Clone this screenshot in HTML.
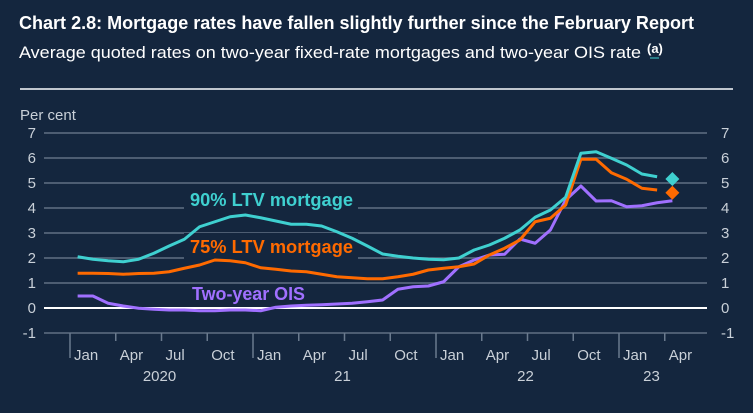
<!DOCTYPE html>
<html><head><meta charset="utf-8"><style>
html,body{margin:0;padding:0;background:#14263e;}
svg{display:block;font-family:"Liberation Sans",Arial,sans-serif;}
</style></head><body>
<svg id="chart" width="753" height="413" viewBox="0 0 753 413">
<rect width="753" height="413" fill="#14263e"/>
<text x="19" y="29" fill="#fff" font-weight="bold" font-size="18" textLength="675" lengthAdjust="spacingAndGlyphs">Chart 2.8: Mortgage rates have fallen slightly further since the February Report</text>
<text x="19" y="58" fill="#fff" font-size="17" textLength="622" lengthAdjust="spacingAndGlyphs">Average quoted rates on two-year fixed-rate mortgages and two-year OIS rate</text>
<text x="647" y="53" fill="#fff" font-size="13" font-weight="bold">(a)</text>
<line x1="650" y1="58" x2="659" y2="58" stroke="#3fd0d0" stroke-width="1"/>
<line x1="20" y1="89" x2="733" y2="89" stroke="#c0c6ce" stroke-width="2"/>
<text x="20" y="120" fill="#c9d0d8" font-size="15">Per cent</text>
<g id="grid"></g><g id="axes"></g><g id="series"></g>
<text x="190" y="206" fill="#3fd0d0" font-weight="bold" font-size="18" textLength="163" lengthAdjust="spacingAndGlyphs">90% LTV mortgage</text>
<text x="190" y="253" fill="#ff6a00" font-weight="bold" font-size="18" textLength="163" lengthAdjust="spacingAndGlyphs">75% LTV mortgage</text>
<text x="192" y="300" fill="#a070ff" font-weight="bold" font-size="18" textLength="113" lengthAdjust="spacingAndGlyphs">Two-year OIS</text>
</svg>
<script>
const yTicks=[-1,0,1,2,3,4,5,6,7];
const monthLabels=["Jan","Apr","Jul","Oct","Jan","Apr","Jul","Oct","Jan","Apr","Jul","Oct","Jan","Apr"];
const yearLabels=["2020","21","22","23"];
const ltv90=[2.05,1.95,1.89,1.85,1.95,2.19,2.48,2.75,3.25,3.45,3.65,3.72,3.61,3.48,3.35,3.35,3.28,3.05,2.79,2.48,2.16,2.07,2.0,1.95,1.93,2.0,2.32,2.52,2.79,3.12,3.63,3.92,4.43,6.19,6.25,5.99,5.72,5.36,5.25];
const ltv75=[1.39,1.39,1.38,1.35,1.38,1.39,1.45,1.59,1.72,1.92,1.89,1.81,1.61,1.55,1.48,1.45,1.35,1.25,1.21,1.17,1.17,1.25,1.35,1.52,1.59,1.65,1.76,2.12,2.39,2.72,3.45,3.59,4.12,5.95,5.95,5.41,5.15,4.79,4.72];
const ois=[0.48,0.48,0.19,0.08,-0.01,-0.05,-0.08,-0.08,-0.11,-0.11,-0.08,-0.08,-0.11,0.03,0.08,0.11,0.13,0.16,0.19,0.25,0.32,0.75,0.85,0.88,1.05,1.65,1.92,2.12,2.15,2.76,2.59,3.12,4.32,4.88,4.28,4.29,4.05,4.09,4.21,4.29];
const ltv90Latest=[39,5.16];
const ltv75Latest=[39,4.61];
const NS="http://www.w3.org/2000/svg";
const X0=70,MW=15.25,L=44,R=707;
function x(i){return X0+(i+0.5)*MW;}
function y(v){return 308-v*25;}
function mk(t,a,p){const e=document.createElementNS(NS,t);for(const k in a)e.setAttribute(k,a[k]);p.appendChild(e);return e;}
const grid=document.getElementById('grid'),axes=document.getElementById('axes'),ser=document.getElementById('series');
yTicks.forEach(v=>{
  const ln=mk('line',{x1:L,x2:R,y1:y(v),y2:y(v),stroke:v===0?'#ffffff':'#4d5d72','stroke-width':2},grid);
  
  
  const t1=mk('text',{x:36,y:y(v)+5,fill:'#c9d0d8','font-size':15,'text-anchor':'end'},axes);t1.textContent=v;
  
  
  const t2=mk('text',{x:721,y:y(v)+5,fill:'#c9d0d8','font-size':15},axes);t2.textContent=v;
  
  
});
monthLabels.forEach((m,i)=>{
  const xx=X0+i*3*MW, major=i%4===0;
  const tk=mk('line',{x1:xx,x2:xx,y1:333,y2:major?358:341,stroke:'#6a7a8e','stroke-width':1.5},axes);
  
  
  const t=mk('text',{x:xx+4,y:360,fill:'#c9d0d8','font-size':15},axes);t.textContent=m;
  
  
});
yearLabels.forEach((yr,i)=>{
  const cx=i<3?X0+(i*12+6)*MW-2:X0+(i*12+2)*MW+2;
  const t=mk('text',{x:cx,y:381,fill:'#c9d0d8','font-size':15,'text-anchor':'middle'},axes);t.textContent=yr;
  
  
});
mk('rect',{x:184,y:186,width:174,height:26,fill:'#14263e'},grid);
mk('rect',{x:184,y:233,width:174,height:26,fill:'#14263e'},grid);
function line(d,c,n){
  const p=mk('polyline',{points:d.map((v,i)=>x(i)+','+y(v)).join(' '),fill:'none',stroke:c,'stroke-width':3,'stroke-linejoin':'round'},ser);
  
  
}
line(ois,'#a070ff','ois-line');
line(ltv75,'#ff6a00','ltv75-line');
line(ltv90,'#3fd0d0','ltv90-line');
function diamond(pt,c,n){
  const cx=x(pt[0]),cy=y(pt[1]),s=7;
  const d=mk('polygon',{points:`${cx},${cy-s} ${cx+s},${cy} ${cx},${cy+s} ${cx-s},${cy}`,fill:c},ser);
  
  
}
diamond(ltv90Latest,'#3fd0d0','ltv90-latest-marker');
diamond(ltv75Latest,'#ff6a00','ltv75-latest-marker');
</script>
</body></html>
